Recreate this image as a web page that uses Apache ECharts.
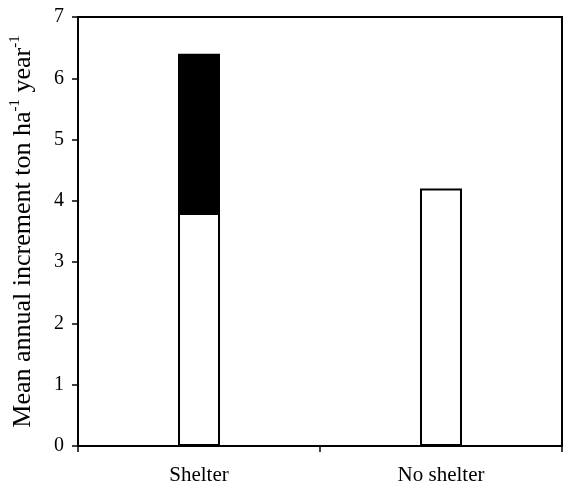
<!DOCTYPE html>
<html>
<head>
<meta charset="utf-8">
<script src="https://cdn.jsdelivr.net/npm/echarts@6/dist/echarts.min.js"></script>
<style>
html,body{margin:0;padding:0;background:#fff;}
#chart{width:564px;height:486px;}
</style>
</head>
<body>
<div id="chart"></div>
<script>
const categories = ['Shelter', 'No shelter'];
const lowerValues = [3.8, 4.2];
const upperValues = [2.6, null];
const yTicks = [0, 1, 2, 3, 4, 5, 6, 7];

const chart = echarts.init(document.getElementById('chart'), null, {renderer: 'canvas'});
const font = '"Liberation Serif", "Times New Roman", serif';
chart.setOption({
  backgroundColor: '#fff',
  animation: false,
  grid: {
    left: 77, right: 2, top: 17, bottom: 40,
    show: true, borderColor: '#000', borderWidth: 2, backgroundColor: 'transparent'
  },
  xAxis: {
    type: 'category',
    data: categories,
    boundaryGap: true,
    axisLine: {lineStyle: {color: '#000', width: 2}},
    axisTick: {show: true, inside: false, length: 6, lineStyle: {color: '#000', width: 1.5}},
    axisLabel: {color: '#000', fontFamily: font, fontSize: 21, margin: 19}
  },
  yAxis: {
    type: 'value',
    min: yTicks[0],
    max: yTicks[yTicks.length - 1],
    interval: 1,
    splitLine: {show: false},
    axisLine: {show: true, lineStyle: {color: '#000', width: 2}},
    axisTick: {show: true, inside: false, length: 6, lineStyle: {color: '#000', width: 1.5}},
    axisLabel: {color: '#000', fontFamily: font, fontSize: 20, margin: 14},
    name: 'Mean annual increment ton ha{sup|-1} year{sup|-1}',
    nameLocation: 'middle',
    nameGap: 40,
    nameTextStyle: {
      color: '#000', fontFamily: font, fontSize: 26, lineHeight: 30,
      rich: {
        sup: {color: '#000', fontFamily: font, fontSize: 15, lineHeight: 15, verticalAlign: 'top'}
      }
    }
  },
  series: [
    {
      type: 'bar', stack: 'a', data: lowerValues, barWidth: 42,
      itemStyle: {color: '#fff', borderColor: '#000', borderWidth: 2}
    },
    {
      type: 'bar', stack: 'a', data: upperValues, barWidth: 42,
      itemStyle: {color: '#000', borderColor: '#000', borderWidth: 2}
    }
  ]
});
</script>
</body>
</html>
